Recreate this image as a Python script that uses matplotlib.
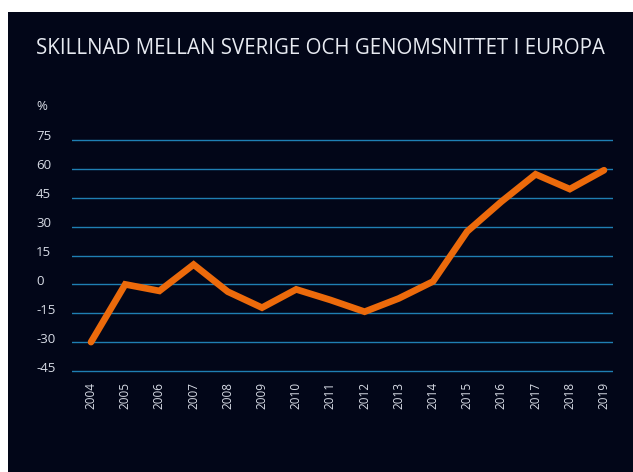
import matplotlib.pyplot as plt
import matplotlib.transforms as mtransforms

years = list(range(2004, 2020))
diff = [-30, 0, -3.4, 10.3, -3.8, -12.1, -2.6, -8.1, -14.2, -7.3, 1.5, 27.5, 43, 57.2, 49.5, 59.3]
yticks = [-45, -30, -15, 0, 15, 30, 45, 60, 75]

W, H = 633, 472
BG = '#020618'
TXT = '#d8dce6'
GRID = '#1f7fb3'
ORANGE = '#ec6a0b'

plt.rcParams['font.family'] = ['Open Sans', 'DejaVu Sans']

fig = plt.figure(figsize=(W / 100, H / 100), dpi=100)
fig.patch.set_facecolor('white')

# dark panel behind everything
bg = fig.add_axes([8 / W, 0, 1 - 8 / W, 1 - 12 / H], zorder=-5)
bg.set_facecolor(BG)
bg.set_axis_off()
bg.add_patch(plt.Rectangle((0, 0), 1, 1, transform=bg.transAxes, facecolor=BG, edgecolor='none'))

# axes placement in pixels
x0, x1 = 72, 613
ytop, ybot = 130, 381
ppu = (371 - 140) / 120.0
ymax = 75 + (140 - ytop) / ppu
ymin = -45 - (ybot - 371) / ppu
ax = fig.add_axes([x0 / W, 1 - ybot / H, (x1 - x0) / W, (ybot - ytop) / H])
ax.set_facecolor('none')
ax.set_ylim(ymin, ymax)
ax.set_xlim(2004 - 19 / 34.2, 2019 + 9 / 34.2)
for s in ax.spines.values():
    s.set_visible(False)
ax.set_xticks([])
ax.set_yticks([])

for v in yticks:
    ax.axhline(v, color=GRID, lw=1.0, zorder=1)
    fig.text(36 / W, 1 - (140 + (75 - v) * ppu - 3) / H, str(v),
             color=TXT, fontsize=9.5, ha='left', va='center')

ax.plot(years, diff, color=ORANGE, lw=4.8, solid_capstyle='round', solid_joinstyle='miter', zorder=3)

trans = mtransforms.blended_transform_factory(ax.transData, fig.transFigure)
for yr in years:
    ax.text(yr, 1 - 382 / H, str(yr), transform=trans, rotation=90,
            ha='center', va='top', color=TXT, fontsize=8.5)

fig.text(36 / W, 1 - 48 / H, 'SKILLNAD MELLAN SVERIGE OCH GENOMSNITTET I EUROPA',
         color='#e8ebf2', fontsize=14.8, ha='left', va='center')
fig.text(36 / W, 1 - 107 / H, '%', color=TXT, fontsize=9.5, ha='left', va='center')

fig.savefig('out.png', dpi=100, facecolor=fig.get_facecolor())
